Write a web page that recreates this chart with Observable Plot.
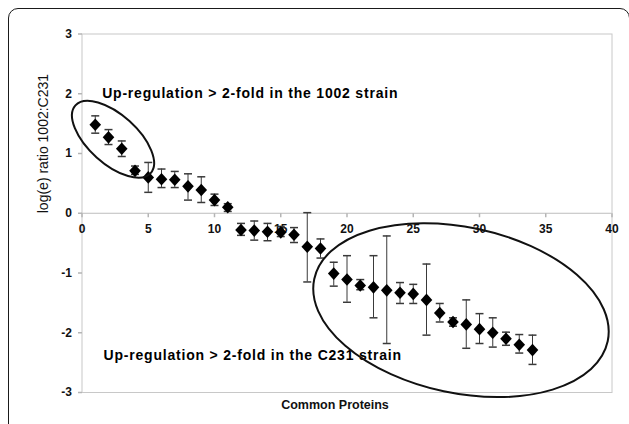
<!DOCTYPE html>
<html>
<head>
<meta charset="utf-8">
<script src="https://cdn.jsdelivr.net/npm/d3@7"></script>
<script src="https://cdn.jsdelivr.net/npm/@observablehq/plot@0.6"></script>
<style>
  html, body { margin: 0; padding: 0; background: #fff; }
  #wrap { position: relative; width: 629px; height: 424px; overflow: hidden; background: #fff; }
  #border { position: absolute; left: 8px; top: 8px; width: 622px; height: 440px;
            border: 1.5px solid #1a1a1a; border-radius: 10px; box-sizing: border-box; }
  #chart { position: absolute; left: 0; top: 0; }
  #chart svg { overflow: visible; }
</style>
</head>
<body>
<div id="wrap"><div id="border"></div><div id="chart"></div></div>
<script>
// ---- data ----
const proteins = [1,2,3,4,5,6,7,8,9,10,11,12,13,14,15,16,17,18,19,20,21,22,23,24,25,26,27,28,29,30,31,32,33,34];
const logRatio = [1.48,1.27,1.08,0.71,0.60,0.57,0.56,0.45,0.39,0.22,0.10,-0.28,-0.29,-0.31,-0.32,-0.36,-0.56,-0.59,-1.01,-1.11,-1.21,-1.24,-1.29,-1.33,-1.35,-1.45,-1.67,-1.82,-1.86,-1.94,-2.00,-2.10,-2.20,-2.29];
const errHigh = [1.63,1.40,1.21,0.79,0.85,0.74,0.70,0.66,0.61,0.32,0.16,-0.17,-0.13,-0.17,-0.22,-0.24,0.01,-0.43,-0.82,-0.71,-1.11,-0.71,-0.38,-1.16,-1.19,-0.85,-1.51,-1.75,-1.45,-1.68,-1.75,-1.99,-2.03,-2.04];
const errLow  = [1.34,1.15,0.95,0.65,0.35,0.43,0.43,0.22,0.18,0.13,0.03,-0.37,-0.45,-0.46,-0.39,-0.49,-1.15,-0.75,-1.22,-1.49,-1.28,-1.75,-2.18,-1.51,-1.51,-2.04,-1.82,-1.89,-2.26,-2.18,-2.24,-2.21,-2.34,-2.53];
const xTicks = [0,5,10,15,20,25,30,35,40];
const yTicks = [-3,-2,-1,0,1,2,3];
const annotations = ["Up-regulation > 2-fold in the 1002 strain", "Up-regulation > 2-fold in the C231 strain"];
const annotX = [1.52, 1.62];
const annotY = [2.0, -2.38];
const xTitle = "Common Proteins";
const yTitle = "log(e) ratio 1002:C231";
// highlight ellipses: centre in data units, radii (px) and tilt (deg)
const ellCx = [2.38, 28.64];
const ellCy = [1.23, -1.63];
const ellRx = [50.6, 150];
const ellRy = [24.5, 83];
const ellTilt = [42, 12];

const rows = proteins.map((p, i) => ({x: p, y: logRatio[i], hi: errHigh[i], lo: errLow[i]}));
const notes = annotations.map((t, i) => ({t, x: annotX[i], y: annotY[i]}));

const font = "'Liberation Sans', Arial, Helvetica, sans-serif";
const diamond = {draw(ctx) { ctx.moveTo(0, -6.3); ctx.lineTo(5.8, 0); ctx.lineTo(0, 6.3); ctx.lineTo(-5.8, 0); ctx.closePath(); }};
const cap = {draw(ctx) { ctx.moveTo(-4, 0); ctx.lineTo(4, 0); }};
const vtick = {draw(ctx) { ctx.moveTo(0, 0); ctx.lineTo(0, 4); }};
const htick = {draw(ctx) { ctx.moveTo(-4, 0); ctx.lineTo(0, 0); }};

const chart = Plot.plot({
  width: 629,
  height: 424,
  marginLeft: 81.5,
  marginRight: 17.5,
  marginTop: 33.5,
  marginBottom: 32,
  style: {background: "transparent", fontFamily: font, color: "#000"},
  x: {domain: [0, 40], axis: null},
  y: {domain: [-3, 3], axis: null},
  marks: [
    Plot.frame({stroke: "#c8c8c8"}),
    Plot.ruleY([0], {stroke: "#bdbdbd"}),
    Plot.dot(yTicks, {x: 0, y: d => d, symbol: htick, stroke: "#b5b5b5", fill: "none", r: 4}),
    Plot.text(yTicks, {frameAnchor: "left", y: d => d, dx: -10, textAnchor: "end", text: d => String(d), fontWeight: "bold", fontSize: 12, fill: "#111"}),
    Plot.dot(xTicks, {x: d => d, y: 0, symbol: vtick, stroke: "#b5b5b5", fill: "none", r: 4}),
    Plot.text(xTicks, {x: d => d, y: 0, dy: 16, text: d => String(d), fontWeight: "bold", fontSize: 12, fill: "#111"}),
    Plot.ruleX(rows, {x: "x", y1: "lo", y2: "hi", stroke: "#3a3a3a", strokeWidth: 1}),
    Plot.dot(rows, {x: "x", y: "hi", symbol: cap, stroke: "#3a3a3a", fill: "none", r: 4}),
    Plot.dot(rows, {x: "x", y: "lo", symbol: cap, stroke: "#3a3a3a", fill: "none", r: 4}),
    Plot.dot(rows, {x: "x", y: "y", symbol: diamond, fill: "#000", stroke: "none", r: 6}),
    Plot.text(notes, {x: "x", y: "y", text: "t", textAnchor: "start", fontWeight: "bold", fontSize: 14, fill: "#000"}),
    Plot.text([xTitle], {frameAnchor: "bottom", dx: -12, dy: 16, fontWeight: "bold", fontSize: 12.5, fill: "#111"}),
    Plot.text([yTitle], {frameAnchor: "left", dx: -38, rotate: -90, fontSize: 14, fill: "#111"})
  ]
});

// annotation letter spacing (reference text is set wide)
d3.select(chart).selectAll("text").filter(function() { return annotations.includes(this.textContent); })
  .attr("letter-spacing", "0.8px");

// ellipses via the chart's own scales
const sx = chart.scale("x"), sy = chart.scale("y");
const X = d3.scaleLinear(sx.domain, sx.range);
const Y = d3.scaleLinear(sy.domain, sy.range);
const g = d3.select(chart).append("g").attr("aria-label", "highlight ellipses");
ellCx.forEach((cx, i) => {
  const px = X(cx), py = Y(ellCy[i]);
  g.append("ellipse")
    .attr("cx", px).attr("cy", py)
    .attr("rx", ellRx[i]).attr("ry", ellRy[i])
    .attr("transform", `rotate(${ellTilt[i]} ${px} ${py})`)
    .attr("fill", "none").attr("stroke", "#111").attr("stroke-width", 2);
});

document.getElementById("chart").appendChild(chart);
</script>
</body>
</html>
